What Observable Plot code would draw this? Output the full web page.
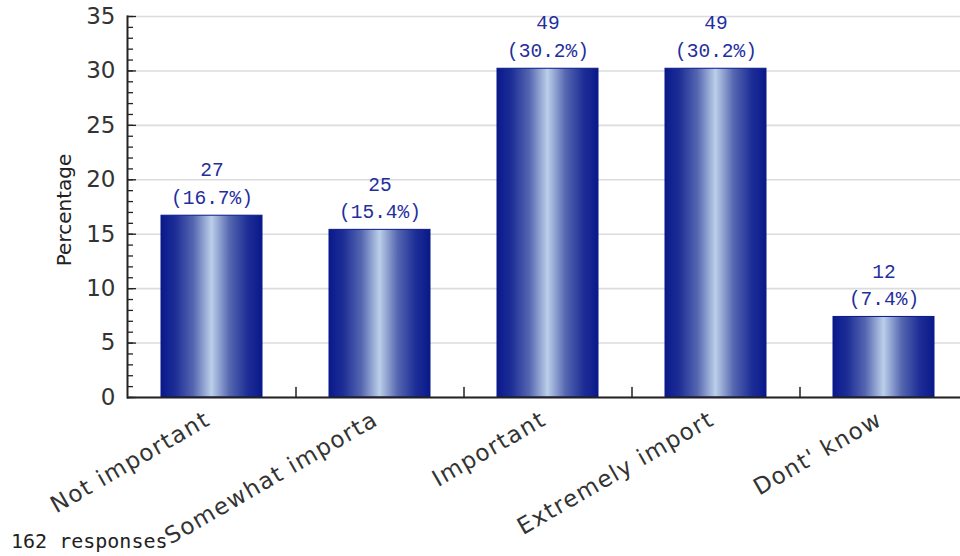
<!DOCTYPE html>
<html>
<head>
<meta charset="utf-8">
<script src="https://cdn.jsdelivr.net/npm/d3@7"></script>
<script src="https://cdn.jsdelivr.net/npm/@observablehq/plot@0.6"></script>
<style>
  body { margin: 0; background: #ffffff; }
  #wrap { position: relative; width: 960px; height: 556px; overflow: hidden; }
  #caption { position: absolute; left: 11px; top: 529px; font: 20px "DejaVu Sans Mono", monospace; color: #222; white-space: nowrap; }
</style>
</head>
<body>
<div id="wrap"><div id="chart"></div><div id="caption"></div></div>
<script>
// ---- data ----
const categories = ["Not important", "Somewhat importa", "Important", "Extremely import", "Dont' know"];
const counts = [27, 25, 49, 49, 12];
const percents = [16.7, 15.4, 30.2, 30.2, 7.4];
const majorTicks = [0, 5, 10, 15, 20, 25, 30, 35];
const minorTicks = d3.range(0, 36, 1);
const yLabel = "Percentage";
const captionText = "162 responses";

const rows = categories.map((c, i) => ({category: c, count: counts[i], percent: percents[i]}));

// gradient defs for the bars
function gradientDefs() {
  const ns = "http://www.w3.org/2000/svg";
  const defs = document.createElementNS(ns, "defs");
  const lg = document.createElementNS(ns, "linearGradient");
  lg.setAttribute("id", "barGrad");
  lg.setAttribute("x1", "0"); lg.setAttribute("x2", "1");
  lg.setAttribute("y1", "0"); lg.setAttribute("y2", "0");
  [[0, "#0a198a"], [0.14, "#1c2d96"], [0.32, "#5566b0"], [0.5, "#bccfe8"], [0.68, "#5566b0"], [0.86, "#1c2d96"], [1, "#0a198a"]]
    .forEach(([o, c]) => {
      const s = document.createElementNS(ns, "stop");
      s.setAttribute("offset", o);
      s.setAttribute("stop-color", c);
      lg.appendChild(s);
    });
  defs.appendChild(lg);
  return defs;
}

// shift a band-centred mark to the boundary between bands
function toBandBoundary(index, scales, values, dimensions, context, next) {
  const s = scales.x;
  const step = s.step ? s.step() : s.bandwidth() / 0.6;
  return next(index, scales, {...values, x: Array.from(values.x, v => v - step / 2)}, dimensions, context);
}

const sepShape = {draw(ctx, l) { ctx.moveTo(0, 0); ctx.lineTo(0, -l); }};

const chart = Plot.plot({
  width: 960,
  height: 556,
  marginTop: 16,
  marginLeft: 127,
  marginRight: 0,
  marginBottom: 159,
  style: {fontFamily: "DejaVu Sans, sans-serif", background: "#ffffff", color: "#333"},
  x: {domain: categories, range: [127, 967], paddingInner: 0.4, paddingOuter: 0.2},
  y: {domain: [0, 35]},
  marks: [
    gradientDefs,
    Plot.gridY(majorTicks, {stroke: "#dcdcdc", strokeOpacity: 1, strokeWidth: 1.6}),
    Plot.barY(rows, {x: "category", y: "percent", fill: "url(#barGrad)", stroke: "#0a198a", strokeWidth: 1}),
    Plot.text(rows, {
      x: "category", y: "percent",
      text: d => `${d.count}\n(${d.percent}%)`,
      lineAnchor: "bottom", lineHeight: 1.4, dy: -12,
      fill: "#1f2f9e", fontFamily: "Liberation Mono, monospace", fontSize: 19.5
    }),
    // axes
    Plot.axisY(minorTicks, {anchor: "left", tickSize: -6, tickFormat: () => "", label: null, stroke: "#222", strokeWidth: 1.3}),
    Plot.axisY(majorTicks, {anchor: "left", tickSize: -9, tickFormat: () => "", label: null, stroke: "#222", strokeWidth: 1.3}),
    Plot.axisY(majorTicks, {anchor: "left", tickSize: 0, tickPadding: 12, fontSize: 23, fill: "#333", label: null}),
    Plot.text([yLabel], {frameAnchor: "left", rotate: -90, dx: -71, dy: 3, lineAnchor: "top", textAnchor: "middle", fontSize: 20, fill: "#222"}),
    Plot.axisX({tickSize: 0, tickRotate: -30, tickPadding: 20, dx: -4, fontSize: 23, fill: "#333", label: null}),
    Plot.vector(categories.slice(1), {x: d => d, y: () => 0, length: 10, rotate: 0, anchor: "start", shape: sepShape, stroke: "#222", strokeWidth: 1.5, render: toBandBoundary}),
    Plot.ruleY([0], {stroke: "#222", strokeWidth: 2}),
    Plot.frame({anchor: "left", stroke: "#222", strokeWidth: 2})
  ]
});

// letter spacing for rotated category labels (style only)
chart.querySelectorAll("[aria-label='x-axis tick label'] text").forEach(t => t.setAttribute("letter-spacing", "1.4"));

document.getElementById("chart").appendChild(chart);
document.getElementById("caption").textContent = captionText;
</script>
</body>
</html>
